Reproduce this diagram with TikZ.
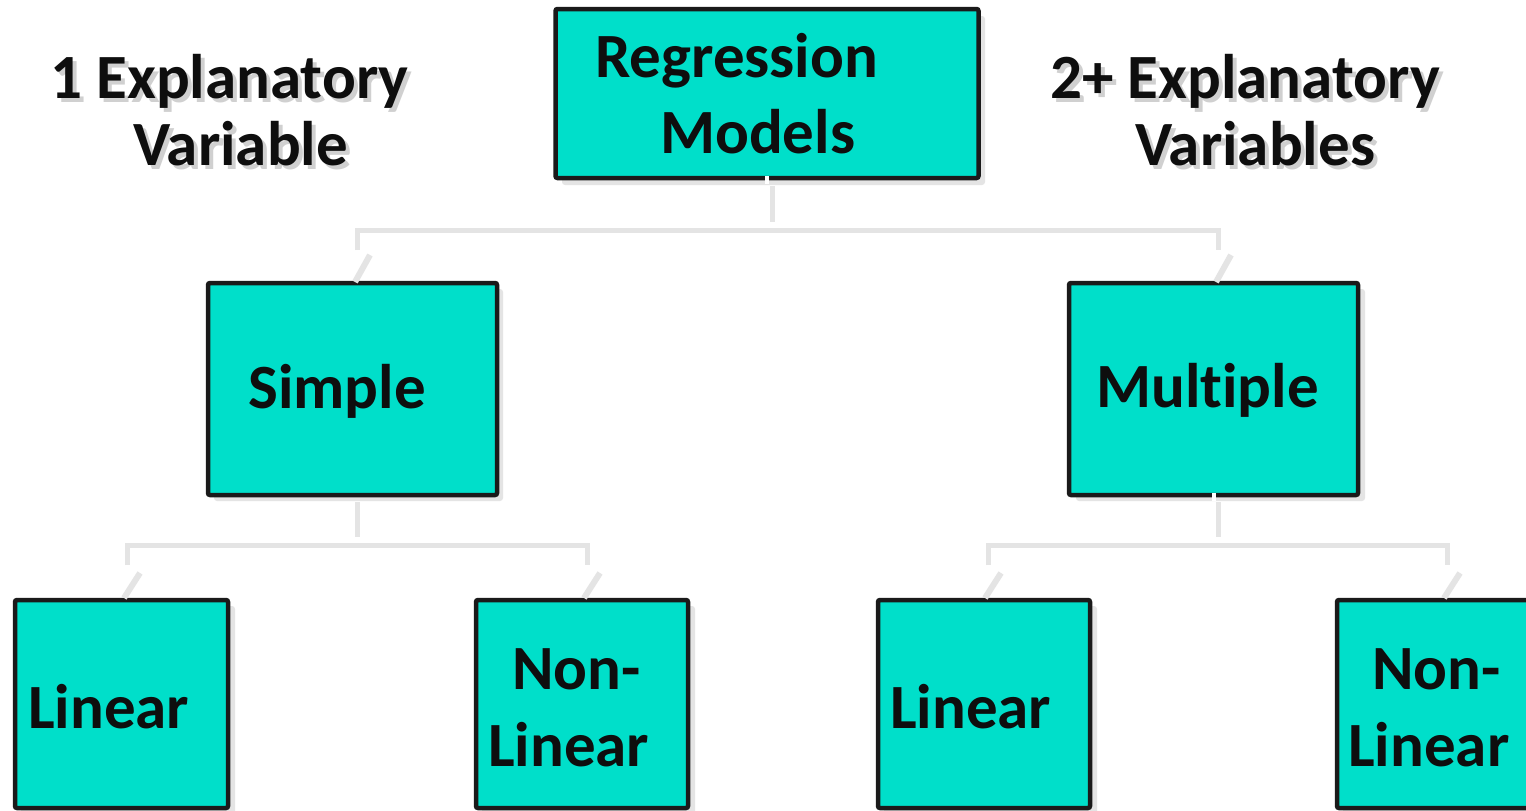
\documentclass[tikz,border=0pt]{standalone}
\usepackage{fontspec}
\setmainfont{Carlito}[Ligatures=NoCommon]
\definecolor{boxfill}{RGB}{0,223,202}
\definecolor{boxline}{RGB}{26,26,26}
\definecolor{shade}{RGB}{228,228,228}
\definecolor{txtshade}{RGB}{208,208,208}
\definecolor{txtcol}{RGB}{14,14,14}
\tikzset{
  box/.style={draw=boxline, fill=boxfill, line width=4.5pt, rounded corners=2pt, inner sep=0pt},
  boxshadow/.style={fill=shade, rounded corners=3pt},
  txt/.style={anchor=base west, inner sep=0pt, font=\fontsize{63}{74}\selectfont\bfseries, text=txtcol},
  txtsh/.style={txt, text=txtshade},
  conn/.style={draw=shade, line width=5pt},
  slant/.style={draw=shade, line width=6pt},
}
\newcommand\shadowlabel[3]{%
  \node[txtsh] at ([shift={(4,4)}]#1) {#3};
  \node[txt] (#2) at (#1) {#3};}
\begin{document}
\begin{tikzpicture}[x=1pt,y=-1pt]
\clip (0,0) rectangle (1526,811);
\fill[white] (0,0) rectangle (1526,811);
% box shadows
\fill[boxshadow] (562,16) rectangle (985,185);
\fill[boxshadow] (214,289) rectangle (503,501);
\fill[boxshadow] (1076,289) rectangle (1365,501);
\fill[boxshadow] (21,606) rectangle (235,815);
\fill[boxshadow] (482,606) rectangle (695,815);
\fill[boxshadow] (884,606) rectangle (1097,815);
\fill[boxshadow] (1343,606) rectangle (1560,815);
% boxes
\node[box, minimum width=423pt, minimum height=169pt] (reg) at (767,93.5) {};
\node[box, minimum width=289pt, minimum height=212pt] (simple) at (352.5,389) {};
\node[box, minimum width=289pt, minimum height=212pt] (multiple) at (1213.5,389) {};
\node[box, minimum width=213pt, minimum height=208pt] (lin1) at (121.5,704) {};
\node[box, minimum width=212pt, minimum height=208pt] (non1) at (582,704) {};
\node[box, minimum width=212pt, minimum height=208pt] (lin2) at (984,704) {};
\node[box, minimum width=212pt, minimum height=208pt] (non2) at (1443,704) {};
% connector points
\coordinate (t0) at (772,186);
\coordinate (t1) at (772,222);
\coordinate (tl) at (357,250);
\coordinate (tr) at (1218,250);
\coordinate (s0) at (357,502);
\coordinate (s1) at (357,537);
\coordinate (sl) at (127,565);
\coordinate (sr) at (587,565);
\coordinate (m0) at (1218,502);
\coordinate (m1) at (1218,537);
\coordinate (ml) at (988,565);
\coordinate (mr) at (1447,565);
% connectors (light grey)
\draw[conn] (t0) -- (t1);
\draw[conn] (tl) -- (tl |- 0,230) -- (tr |- 0,230) -- (tr);
\draw[slant] ([shift={(13,5)}]tl) -- ([shift={(-2,32)}]tl);
\draw[slant] ([shift={(13,5)}]tr) -- ([shift={(-2,32)}]tr);
\draw[conn] (s0) -- (s1);
\draw[conn] (sl) -- (sl |- 0,545) -- (sr |- 0,545) -- (sr);
\draw[slant] ([shift={(13,8)}]sl) -- ([shift={(-3,33)}]sl);
\draw[slant] ([shift={(13,8)}]sr) -- ([shift={(-3,33)}]sr);
\draw[conn] (m0) -- (m1);
\draw[conn] (ml) -- (ml |- 0,545) -- (mr |- 0,545) -- (mr);
\draw[slant] ([shift={(13,8)}]ml) -- ([shift={(-3,33)}]ml);
\draw[slant] ([shift={(13,8)}]mr) -- ([shift={(-3,33)}]mr);
% white notches
\fill[white] (reg.south) ++(-2,-4) rectangle ++(4,8);
\fill[white] (multiple.south) ++(-2,-4) rectangle ++(4,8);
% box texts
\node[txt] (tRegA) at (595,77) {Regression};
\node[txt] (tRegB) at (660,153) {Models};
\node[txt] (tSimple) at (248,408) {Simple};
\node[txt] (tMult) at (1096,407) {Multiple};
\node[txt] (tLin1) at (28,728) {Linear};
\node[txt] (tNon1a) at (512,689) {Non-};
\node[txt] (tNon1b) at (488,766) {Linear};
\node[txt] (tLin2) at (890,728) {Linear};
\node[txt] (tNon2a) at (1372,689) {Non-};
\node[txt] (tNon2b) at (1348,766) {Linear};
% side labels with shadows
\shadowlabel{50,98}{lA}{1 Explanatory}
\shadowlabel{133,165}{lB}{Variable}
\shadowlabel{1050,98}{rA}{2+ Explanatory}
\shadowlabel{1135,165}{rB}{Variables}
\end{tikzpicture}
\end{document}
